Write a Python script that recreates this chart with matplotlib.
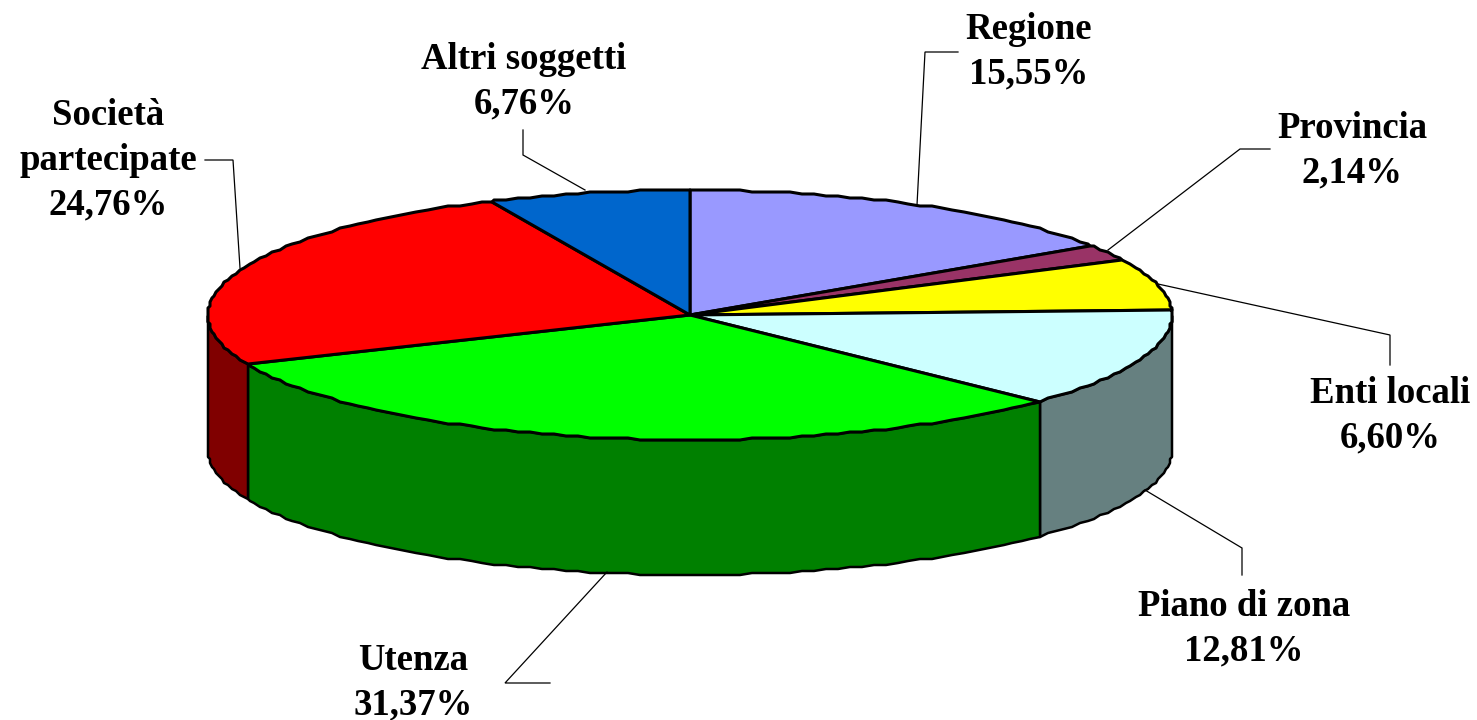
import numpy as np
import matplotlib
matplotlib.use("Agg")
import matplotlib.pyplot as plt
from matplotlib.patches import Polygon

labels = ["Regione", "Provincia", "Enti locali", "Piano di zona", "Utenza", "Società\npartecipate", "Altri soggetti"]
values = [15.55, 2.14, 6.60, 12.81, 31.37, 24.76, 6.76]
value_labels = ["15,55%", "2,14%", "6,60%", "12,81%", "31,37%", "24,76%", "6,76%"]
top_colors = ["#9999ff", "#993366", "#ffff00", "#ccffff", "#00ff00", "#ff0000", "#0066cc"]
side_colors = ["#4c4c80", "#4c1933", "#808000", "#668080", "#008000", "#800000", "#003366"]

# pie geometry in pixels
cx, cy = 690, 315
rx, ry = 482, 125
depth = 135

label_pos = [(1029, 52), (1352, 151), (1390, 416), (1244, 629), (413, 683), (108, 160), (524, 82)]
anchors = [(917, 205), (1108, 250), (1158, 284), (1145, 490), (607, 572), (240, 268), (585, 190)]
elbows = [(925, 52), (1240, 149), (1390, 335), (1242, 548), (505, 683), (233, 160), (523, 155)]
ends = [(958, 52), (1270, 149), (1390, 365), (1242, 575), (550, 683), (205, 160), (523, 130)]


def rim(a0, a1):
    # coarse steps so the rim looks stepped like the old export
    grid = np.arange(0, 360.1, 1.5)
    a = np.r_[a0, grid[(grid > a0) & (grid < a1)], a1]
    t = np.radians(a)
    x = cx + rx * np.sin(t)
    y = cy - ry * np.cos(t)
    return np.round(x / 2) * 2, np.round(y / 2) * 2


fig = plt.figure(figsize=(14.77, 7.2), dpi=100)
ax = fig.add_axes([0, 0, 1, 1])
ax.set_xlim(0, 1477)
ax.set_ylim(720, 0)
ax.axis("off")

edges = np.cumsum([0] + values) / 100 * 360

# side walls, only the front half of the ellipse shows
for i in range(len(values)):
    a0, a1 = max(edges[i], 90), min(edges[i + 1], 270)
    if a1 <= a0:
        continue
    x, y = rim(a0, a1)
    pts = np.r_[np.c_[x, y], np.c_[x[::-1], y[::-1] + depth]]
    ax.add_patch(Polygon(pts, closed=True, fc=side_colors[i], ec="black", lw=1.8, joinstyle="round"))

# top slices
for i in range(len(values)):
    x, y = rim(edges[i], edges[i + 1])
    pts = np.r_[[(cx, cy)], np.c_[x, y]]
    ax.add_patch(Polygon(pts, closed=True, fc=top_colors[i], ec="black", lw=2.2, joinstyle="round"))

# leader lines
for a, b, c in zip(anchors, elbows, ends):
    ax.plot([a[0], b[0], c[0]], [a[1], b[1], c[1]], color="black", lw=0.9, solid_joinstyle="miter")

for name, val, (x, y) in zip(labels, value_labels, label_pos):
    ax.text(x, y, name + "\n" + val, ha="center", va="center", fontsize=26.5,
            family="Liberation Serif", fontweight="bold", linespacing=1.36, color="black")

fig.savefig("out.png", dpi=100, facecolor="white")
